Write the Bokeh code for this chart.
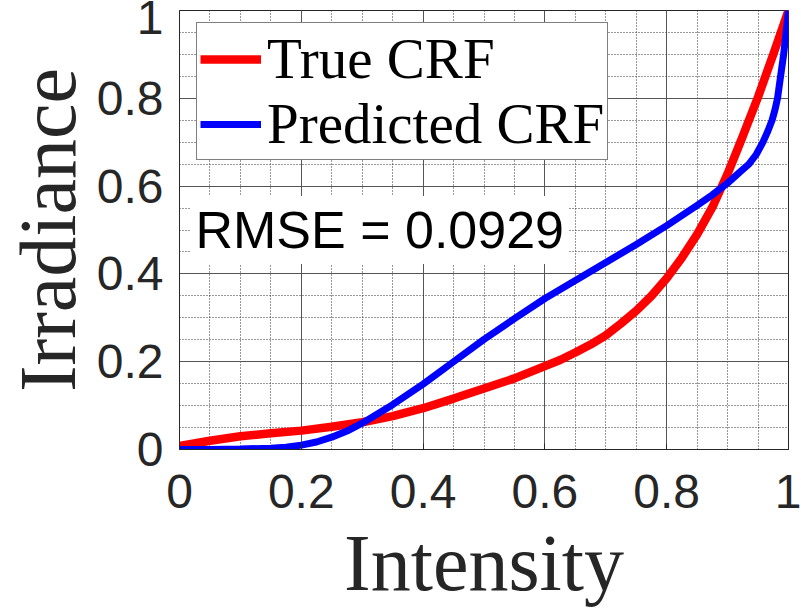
from bokeh.plotting import figure
from bokeh.models import FixedTicker, Label, Range1d
from bokeh.embed import file_html
from bokeh.resources import INLINE

# ---- data ----
true_x = [0.0, 0.05, 0.1, 0.15, 0.2, 0.25, 0.3, 0.35, 0.4, 0.45, 0.5, 0.55, 0.6, 0.625,
          0.65, 0.675, 0.7, 0.725, 0.75, 0.775, 0.8, 0.825, 0.85, 0.875, 0.9, 0.925, 0.95,
          0.975, 1.0]
true_y = [0.008, 0.02, 0.03, 0.037, 0.043, 0.052, 0.062, 0.076, 0.094, 0.116, 0.139, 0.162, 0.19, 0.204,
          0.221, 0.239, 0.26, 0.287, 0.316, 0.35, 0.39, 0.437, 0.49, 0.552, 0.628, 0.714, 0.803,
          0.9, 1.0]

pred_x = [0.0, 0.05, 0.1, 0.15, 0.175, 0.2, 0.225, 0.25, 0.275, 0.3, 0.35, 0.4, 0.45, 0.5,
          0.55, 0.6, 0.65, 0.7, 0.75, 0.8, 0.85, 0.875, 0.9, 0.92, 0.935, 0.947, 0.958,
          0.966, 0.973, 0.978, 0.982, 0.987, 0.992, 0.996, 1.0]
pred_y = [0.0, 0.0, 0.001, 0.003, 0.005, 0.01, 0.017, 0.028, 0.042, 0.06, 0.102, 0.149, 0.2, 0.251,
          0.298, 0.344, 0.385, 0.426, 0.467, 0.51, 0.556, 0.58, 0.607, 0.632, 0.65, 0.672, 0.7,
          0.725, 0.75, 0.775, 0.8, 0.85, 0.9, 0.95, 1.0]

tick_values = [0.0, 0.2, 0.4, 0.6, 0.8, 1.0]
tick_labels = ["0", "0.2", "0.4", "0.6", "0.8", "1"]
minor_values = [round(i * 0.05, 2) for i in range(21)]

series_names = ["True CRF", "Predicted CRF"]
rmse_text = "RMSE = 0.0929"
x_title = "Intensity"
y_title = "Irradiance"

TXT = "#262626"
TICK_FONT = "48px"

p = figure(width=801, height=612, output_backend="svg", toolbar_location=None,
           x_range=Range1d(0, 1), y_range=Range1d(0, 1),
           min_border_left=177, min_border_top=10, min_border_right=13, min_border_bottom=163)
p.background_fill_color = "white"
p.border_fill_color = "white"
p.outline_line_color = TXT
p.outline_line_width = 1

grid_ticker = FixedTicker(ticks=tick_values, minor_ticks=minor_values)
# the top y label "1" sits a little below its tick (as in the reference) so it stays inside the page
y_label_pos = tick_values[:-1] + [0.986]
y_ticker = FixedTicker(ticks=y_label_pos)

for ax in (p.xaxis[0], p.yaxis[0]):
    ax.major_label_text_font = "Liberation Sans"
    ax.major_label_text_font_size = TICK_FONT
    ax.major_label_text_color = TXT
    ax.axis_line_color = TXT
    ax.major_tick_out = 0
    ax.minor_tick_in = 0
    ax.minor_tick_out = 0
    ax.major_tick_line_color = TXT
    ax.axis_label_text_font = "Liberation Serif"
    ax.axis_label_text_font_size = "80px"
    ax.axis_label_text_font_style = "normal"
    ax.axis_label_text_color = TXT

p.xaxis.ticker = grid_ticker
p.xaxis.major_tick_in = 6
p.xaxis.major_label_overrides = {v: s for v, s in zip(tick_values, tick_labels)}
p.yaxis.ticker = y_ticker
p.yaxis.major_tick_in = 0
p.yaxis.major_label_overrides = {v: s for v, s in zip(y_label_pos, tick_labels)}

p.xaxis.axis_label = x_title
p.yaxis.axis_label = y_title
p.xaxis.major_label_standoff = 25
p.xaxis.axis_label_standoff = 8
p.yaxis.major_label_standoff = 16
p.yaxis.axis_label_standoff = 2

for g in (p.xgrid[0], p.ygrid[0]):
    g.ticker = grid_ticker
    g.grid_line_color = "#555555"
    g.grid_line_width = 1
    g.minor_grid_line_color = "#333333"
    g.minor_grid_line_dash = "1 2"
    g.minor_grid_line_width = 1

p.line(true_x, true_y, line_color="#ff0000", line_width=8.5, legend_label=series_names[0])
p.line(pred_x, pred_y, line_color="#0000ff", line_width=7, legend_label=series_names[1])

rmse = Label(x=0.018, y=0.5, text=rmse_text, text_font="Liberation Sans",
             text_font_size="52px", text_color="black", text_align="left",
             text_baseline="middle", background_fill_color="white",
             background_fill_alpha=1.0, padding=5)
p.add_layout(rmse)

lg = p.legend[0]
lg.location = (17, 289)
lg.margin = 0
lg.padding = 3
lg.spacing = 0
lg.glyph_width = 61
lg.glyph_height = 40
lg.label_standoff = 6
lg.label_text_font = "Liberation Serif"
lg.label_text_font_size = "57px"
lg.label_text_line_height = 1.0
lg.label_text_color = "black"
lg.border_line_color = "black"
lg.border_line_width = 1
lg.background_fill_color = "white"
lg.background_fill_alpha = 1.0

open("out.html", "w").write(file_html(p, INLINE))
